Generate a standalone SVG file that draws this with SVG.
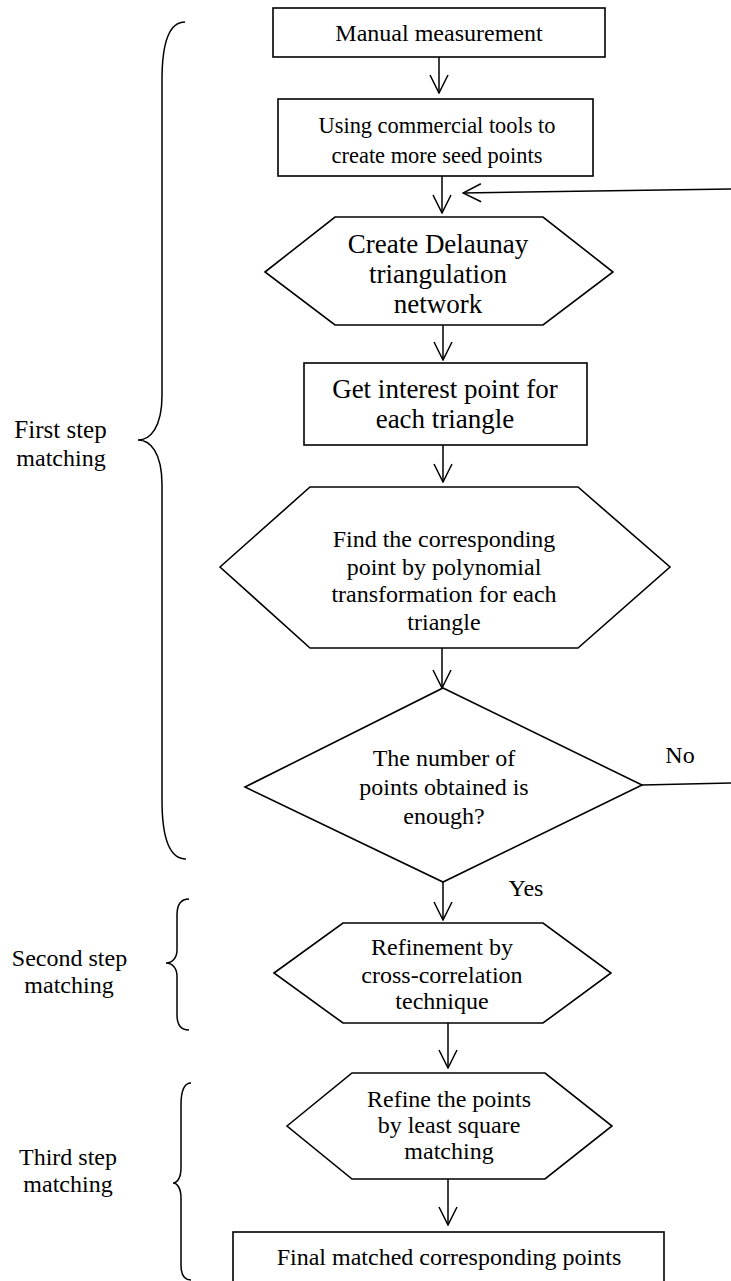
<svg xmlns="http://www.w3.org/2000/svg" width="731" height="1281" viewBox="0 0 731 1281">
<style>
.s{fill:#fff;stroke:#000;stroke-width:1.6}
.c{fill:none;stroke:#000;stroke-width:1.5}
.b{fill:none;stroke:#000;stroke-width:1.5}
text{font-family:"Liberation Serif","Times New Roman",serif;fill:#000;text-anchor:middle}
.t24{font-size:24px}
.t23{font-size:22.4px}
.t25{font-size:25px}
.t27{font-size:27px}
</style>
<defs>
<marker id="arr" viewBox="0 0 20 20" refX="19" refY="10" markerWidth="20" markerHeight="20" markerUnits="userSpaceOnUse" orient="auto">
<path d="M1,1 L19,10 L1,19" fill="none" stroke="#000" stroke-width="1.5"/>
</marker>
</defs>
<g id="connectors">
<line class="c" x1="439" y1="57" x2="439" y2="93" marker-end="url(#arr)"/>
<line class="c" x1="442" y1="176" x2="442" y2="213" marker-end="url(#arr)"/>
<line class="c" x1="443" y1="325" x2="443" y2="360" marker-end="url(#arr)"/>
<line class="c" x1="443" y1="445" x2="443" y2="482" marker-end="url(#arr)"/>
<line class="c" x1="442" y1="648" x2="442" y2="688" marker-end="url(#arr)"/>
<line class="c" x1="443" y1="882" x2="443" y2="920" marker-end="url(#arr)"/>
<line class="c" x1="448" y1="1023" x2="448" y2="1068" marker-end="url(#arr)"/>
<line class="c" x1="448" y1="1179" x2="448" y2="1225" marker-end="url(#arr)"/>
<line class="c" x1="642" y1="785" x2="731" y2="783"/>
<line class="c" x1="731" y1="189" x2="463" y2="193" marker-end="url(#arr)"/>
<text class="t24" x="680" y="763">No</text>
<text class="t24" x="526" y="896">Yes</text>
</g>
<g id="n1">
<rect class="s" x="273" y="8" width="332" height="49"/>
<text class="t24" x="439" y="41">Manual measurement</text>
</g>
<g id="n2">
<rect class="s" x="278" y="99" width="315" height="77"/>
<text class="t23" x="437" y="133">Using commercial tools to</text>
<text class="t23" x="437" y="163">create more seed points</text>
</g>
<g id="n3">
<polygon class="s" points="265,272 335,217 543,217 613,272 543,325 335,325"/>
<text class="t27" x="438" y="253">Create Delaunay</text>
<text class="t27" x="438" y="283">triangulation</text>
<text class="t27" x="438" y="313">network</text>
</g>
<g id="n4">
<rect class="s" x="304" y="363" width="283" height="82"/>
<text class="t27" x="445" y="398">Get interest point for</text>
<text class="t27" x="445" y="428">each triangle</text>
</g>
<g id="n5">
<polygon class="s" points="220,567 310,487 578,487 670,567 578,648 310,648"/>
<text class="t24" x="444" y="547">Find the corresponding</text>
<text class="t24" x="444" y="575">point by polynomial</text>
<text class="t24" x="444" y="602">transformation for each</text>
<text class="t24" x="444" y="630">triangle</text>
</g>
<g id="n6">
<polygon class="s" points="443,688 642,785 443,882 245,787"/>
<text class="t24" x="444" y="766">The number of</text>
<text class="t24" x="444" y="795">points obtained is</text>
<text class="t24" x="444" y="824">enough?</text>
</g>
<g id="n7">
<polygon class="s" points="274,973 343,923 543,923 611,973 543,1023 343,1023"/>
<text class="t24" x="442" y="955">Refinement by</text>
<text class="t24" x="442" y="983">cross-correlation</text>
<text class="t24" x="442" y="1009">technique</text>
</g>
<g id="n8">
<polygon class="s" points="287,1126 352,1073 545,1073 612,1126 545,1179 352,1179"/>
<text class="t24" x="449" y="1107">Refine the points</text>
<text class="t24" x="449" y="1133">by least square</text>
<text class="t24" x="449" y="1159">matching</text>
</g>
<g id="n9">
<rect class="s" x="233" y="1232" width="431" height="52"/>
<text class="t24" x="449" y="1265">Final matched corresponding points</text>
</g>
<g id="brace1">
<path class="b" d="M185,22 C170,22 162,40 162,80 L162,395 C162,428 150,440 138,440 C150,440 162,452 162,485 L162,800 C162,840 170,859 186,859"/>
<text class="t25" x="60.5" y="438">First step</text>
<text class="t24" x="61" y="466">matching</text>
</g>
<g id="brace2">
<path class="b" d="M189,899 C181,899 177,905 177,915 L177,950 C177,958 172,963 166,963 C172,963 177,968 177,976 L177,1015 C177,1025 181,1030 189,1030"/>
<text class="t24" x="69.5" y="966">Second step</text>
<text class="t24" x="69" y="993">matching</text>
</g>
<g id="brace3">
<path class="b" d="M191,1083 C184,1083 181,1090 181,1105 L181,1168 C181,1178 177,1183 173,1183 C177,1183 181,1188 181,1198 L181,1265 C181,1275 184,1280 191,1280"/>
<text class="t24" x="68" y="1165">Third step</text>
<text class="t24" x="68" y="1192">matching</text>
</g>
</svg>
